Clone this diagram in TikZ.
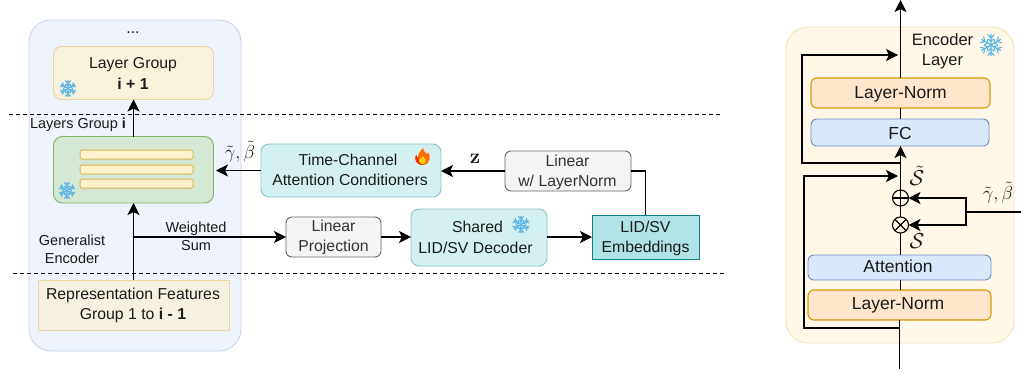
\documentclass[tikz,border=0pt]{standalone}
\usepackage[no-math]{fontspec}
\usepackage{graphicx}
\setmainfont{Liberation Sans}
\usetikzlibrary{arrows.meta,calc}
\definecolor{tcl}{HTML}{1A1A1A}
\definecolor{snow}{HTML}{5BB4E5}
\definecolor{gtx}{HTML}{333333}
\newcommand{\bx}[7][]{%
  \node[minimum width={(#5-#3)*1pt},minimum height={(#6-#4)*1pt},line width=0.9pt,rounded corners=6pt,#7,#1] (#2) at ({(#3+#5)/2},{(#4+#6)/2}) {};}
\newcommand{\gb}{\scalebox{1.3}{$\tilde{\gamma},\tilde{\beta}$}}
\tikzset{
 x=1pt,y=-1pt,
 every node/.style={font=\fontsize{15.8}{20}\selectfont,text=tcl,align=center,inner sep=0pt,outer sep=0pt},
 small/.style={font=\fontsize{14.5}{18}\selectfont},
 large/.style={font=\fontsize{17.5}{20}\selectfont},
 enclab/.style={font=\fontsize{16.5}{20}\selectfont},
 wire/.style={draw=black,line width=1.15pt},
 arr/.style={wire,-{Stealth[length=12pt,width=12pt,inset=3pt]}},
 sepline/.style={draw=black,line width=0.9pt,dash pattern=on 4pt off 3pt},
 opnode/.style={circle,draw=black,line width=1.1pt,minimum size=16pt},
 flake/.pic={
  \foreach \a in {0,60,...,300}{
   \draw[snow,line width=1.1pt,line cap=round,rotate=\a] (0,0)--(0,-9.5) (0,-6)--(-2.8,-9) (0,-6)--(2.8,-9) (0,-3)--(-2.4,-5.2) (0,-3)--(2.4,-5.2);
  }
 },
 panelL/.style={draw=pbl,fill=pfl,rounded corners=22pt},
 panelR/.style={draw=pyl,fill=pyf,rounded corners=22pt},
 sand/.style={draw=sandd,fill=sandf,rounded corners=8pt},
 feat/.style={draw=sandd,fill=featf,sharp corners},
 grn/.style={draw=grnd,fill=grnf,rounded corners=9pt},
 bar/.style={draw=bard,fill=barf,rounded corners=1.5pt,line width=1pt},
 gray/.style={draw=grayd,fill=grayf},
 teal/.style={draw=teald,fill=tealf,rounded corners=8pt},
 embed/.style={draw=embd,fill=embf,sharp corners,line width=0.9pt},
 orng/.style={draw=orngd,fill=orngf,line width=1.1pt},
 blu/.style={draw=blud,fill=bluf},
}
\definecolor{pbl}{HTML}{C6D5EE}
\definecolor{pfl}{HTML}{EFF4FC}
\definecolor{pyl}{HTML}{F2E3B8}
\definecolor{pyf}{HTML}{FFF8E8}
\definecolor{sandd}{HTML}{EAD79F}
\definecolor{sandf}{HTML}{F9F2DC}
\definecolor{featf}{HTML}{F6F1E1}
\definecolor{grnd}{HTML}{82B366}
\definecolor{grnf}{HTML}{D5E8D4}
\definecolor{bard}{HTML}{D6B656}
\definecolor{barf}{HTML}{FFF2CC}
\definecolor{grayd}{HTML}{666666}
\definecolor{grayf}{HTML}{F5F5F5}
\definecolor{teald}{HTML}{86C4C9}
\definecolor{tealf}{HTML}{D5F0F1}
\definecolor{embd}{HTML}{0E8088}
\definecolor{embf}{HTML}{B0E3E6}
\definecolor{orngd}{HTML}{D79B00}
\definecolor{orngf}{HTML}{FFE6CC}
\definecolor{blud}{HTML}{6C8EBF}
\definecolor{bluf}{HTML}{DAE8FC}
\begin{document}
\begin{tikzpicture}
\useasboundingbox (0,0) rectangle (1021,375);
% panels
\bx{panelA}{29}{20}{241}{351}{panelL}
\bx{panelB}{786}{27}{1014}{343}{panelR}
% separators
\coordinate (s1a) at (9,114); \coordinate (s1b) at (722,114);
\coordinate (s2a) at (13,273); \coordinate (s2b) at (725,273);
\draw[sepline] (s1a)--(s1b);
\draw[sepline] (s2a)--(s2b);
% left column
\node (dots) at (133,33) {...};
\bx{lg}{53.5}{46.5}{213.5}{99.5}{sand}
\node (lgt) at (133,73.5) {Layer Group\\[1pt]\textbf{i + 1}};
\bx{gi}{53.5}{136.5}{213.5}{203}{grn}
\bx{b1}{80}{150}{193}{159}{bar}
\bx{b2}{80}{165}{193}{174}{bar}
\bx{b3}{80}{179}{193}{188}{bar}
\bx{fe}{38}{280}{229}{330}{feat}
\node (fet) at (133,305) {Representation Features\\Group 1 to \textbf{i - 1}};
\node[small] (lgi) at (78,125) {Layers Group \textbf{i}};
\node[small] (gen) at (72,249) {Generalist\\Encoder};
\node[small] (ws) at (196,236.5) {Weighted\\Sum};
\pic[scale=.85] at (68,88.5) {flake};
\pic[scale=.85] at (67,190.5) {flake};
% middle boxes
\bx{lp}{286}{217}{381}{257}{gray}
\node[text=gtx] (lpt) at (333.5,237) {Linear\\Projection};
\bx{dec}{411}{209}{547}{266}{teal}
\node (dect1) at (477.5,227) {Shared};
\node (dect2) at (475.5,248) {LID/SV Decoder};
\pic[scale=.88] at (521,224.5) {flake};
\bx{emb}{592}{215}{699}{259}{embed}
\node (embt) at (645.5,238) {LID/SV\\Embeddings};
\bx{tc}{261}{144}{441}{197}{teal}
\node (tct1) at (348,160) {Time-Channel};
\node (tct2) at (350,180) {Attention Conditioners};
\bx{ln}{505}{151}{631}{191}{gray}
\node[text=gtx] (lnt) at (567.5,172) {Linear\\w/ LayerNorm};
% flame
\begin{scope}[shift={(423,157)}]
\fill[orange!85!red] (0,8) .. controls (-7,8) and (-9,2) .. (-7,-2) .. controls (-6,-1) and (-5.5,0) .. (-5,1) .. controls (-5,-3) and (-3,-6) .. (0,-9) .. controls (0,-6) and (2,-5) .. (4,-3) .. controls (4.5,-3) and (5,-4) .. (5,-5) .. controls (8,-1) and (8,7) .. (0,8) -- cycle;
\fill[red!70!orange] (0,8) .. controls (-7,8) and (-9,2) .. (-7,-2) .. controls (-6,0) and (-5,2) .. (-4,2) .. controls (-4,5) and (-2,7) .. (0,8) -- cycle;
\fill[yellow!70!orange] (0,7) .. controls (-4,7) and (-5,3) .. (-3,1) .. controls (-2,2) and (-1,1) .. (-1,-1) .. controls (2,0) and (5,6) .. (0,7) -- cycle;
\end{scope}
\node (z) at (475,159) {\scalebox{1.45}{$\mathbf{z}$}};
\node (gb1) at (240,152) {\gb};
% left connectors
\draw[arr] (gi.north -| lg.south) -- (lg.south);
\draw[arr] (fe.north) -- (gi.south);
\coordinate (branch) at (fe.north |- lp.west);
\draw[arr] (branch) -- (lp.west);
\draw[arr] (lp.east) -- (lp.east -| dec.west);
\draw[arr] (lp.east -| dec.east) -- (lp.east -| emb.west);
\draw[wire] (emb.north) |- (ln.east);
\draw[arr] (ln.west) -- (ln.west -| tc.east);
\coordinate (gin) at (216,170.5);
\draw[arr] (tc.west |- gin) -- (gin);
% right column
\bx{rn2}{811}{78}{990}{108}{orng}
\node[large] (rn2t) at (900.5,94) {Layer-Norm};
\bx{fc}{811}{119}{989}{146}{blu}
\node[large] (fct) at (900,133) {FC};
\bx{att}{808}{255}{991}{280}{blu}
\node[large] (attt) at (898,266) {Attention};
\bx{rn1}{808}{290}{991}{320}{orng}
\node[large] (rn1t) at (898,305) {Layer-Norm};
\node[opnode] (oplus) at (900.5,198) {};
\node[opnode] (otimes) at (900.5,225) {};
\draw[black,line width=1.1pt] (oplus.north)--(oplus.south) (oplus.west)--(oplus.east);
\draw[black,line width=1.1pt] (otimes.north west)--(otimes.south east) (otimes.north east)--(otimes.south west);
\node[enclab] (enc) at (942.5,51) {Encoder\\Layer};
\pic[scale=1.15] at (991,45) {flake};
\node (st) at (917,176) {\scalebox{1.5}{$\tilde{\mathcal{S}}$}};
\node (s) at (917,241) {\scalebox{1.5}{$\mathcal{S}$}};
\node (gb2) at (998,193) {\gb};
\coordinate (top) at (900.5,0);
\coordinate (bot) at (899.5,369);
\coordinate (inp) at (1021,212);
\coordinate (split) at (966,212);
\coordinate (j1) at (900.5,163);
\coordinate (m1) at (898,55);
\coordinate (j2) at (899.5,328);
\coordinate (m2) at (898,176);
\draw[arr] (rn2.north -| top) -- (top);
\draw[wire] (fc.north -| top) -- (rn2.south -| top);
\draw[arr] (oplus.north) -- (fc.south -| oplus);
\draw[wire] (oplus.south) -- (otimes.north);
\draw[wire] (att.north -| otimes) -- (otimes.south);
\draw[wire] (rn1.north -| otimes) -- (att.south -| otimes);
\draw[wire] (bot) -- (rn1.south -| bot);
\draw[arr] (j1) -- (802,163) -- (802,55) -- (m1);
\draw[arr] (j2) -- (804,328) -- (804,176) -- (m2);
\draw[wire] (inp) -- (split);
\draw[arr] (split) |- (oplus.east);
\draw[arr] (split) |- (otimes.east);
\end{tikzpicture}
\end{document}
